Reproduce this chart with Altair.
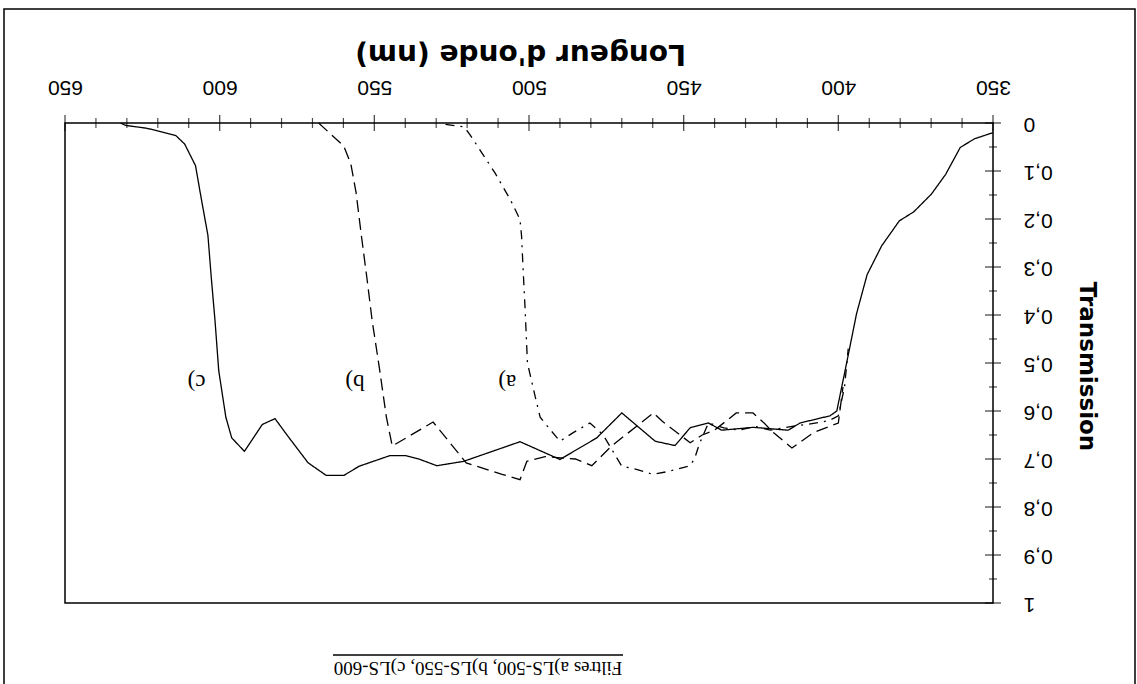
import altair as alt
import pandas as pd

# ---- data ----
a_wl = [527.0, 521.0, 519.1, 511.0, 506.1, 502.9, 502.4, 501.9, 501.3, 500.5, 498.0, 496.4, 493.0, 490.0,
        485.7, 480.3, 476.0, 470.0, 465.0, 460.0, 455.0, 448.0, 446.5, 445.0, 442.0, 437.0, 432.0, 427.0,
        422.0, 415.0, 410.0, 403.0, 400.0, 398.0, 396.8]
a_t = [0.003, 0.008, 0.024, 0.104, 0.159, 0.201, 0.236, 0.305, 0.382, 0.50, 0.57, 0.613, 0.64, 0.663,
       0.645, 0.625, 0.65, 0.715, 0.722, 0.732, 0.726, 0.714, 0.70, 0.67, 0.625, 0.635, 0.64, 0.632,
       0.64, 0.632, 0.628, 0.62, 0.61, 0.55, 0.47]

b_wl = [568.0, 559.9, 557.6, 555.9, 554.2, 552.4, 550.7, 548.4, 546.1, 544.2, 531.0, 520.3, 508.7, 502.9,
        500.7, 494.8, 485.0, 479.7, 473.3, 459.8, 457.0, 447.9, 444.0, 440.0, 433.0, 427.6, 424.0, 421.0,
        415.0, 408.0, 402.0, 400.0, 398.5]
b_t = [0.0, 0.048, 0.085, 0.145, 0.234, 0.323, 0.412, 0.509, 0.613, 0.673, 0.623, 0.708, 0.732, 0.743,
       0.705, 0.695, 0.70, 0.714, 0.673, 0.604, 0.621, 0.666, 0.65, 0.64, 0.604, 0.604, 0.625, 0.645,
       0.677, 0.645, 0.63, 0.625, 0.55]

c_wl = [632.0, 630.4, 623.5, 614.2, 611.3, 607.8, 606.1, 603.8, 602.7, 601.5, 600.3, 598.0, 596.1, 592.0,
        586.2, 582.1, 578.0, 571.4, 565.6, 559.8, 554.9, 545.0, 540.0, 535.2, 529.8, 521.2, 502.9, 490.0,
        478.1, 470.0, 459.2, 452.8, 447.9, 442.0, 437.7, 427.5, 416.2, 412.4, 402.7, 400.5, 397.6, 394.1,
        390.7, 386.0, 380.3, 375.6, 369.9, 365.3, 360.6, 356.0, 350.0]
c_t = [0.0, 0.005, 0.011, 0.026, 0.044, 0.089, 0.152, 0.234, 0.323, 0.412, 0.516, 0.613, 0.656, 0.684,
       0.628, 0.616, 0.652, 0.708, 0.734, 0.734, 0.715, 0.693, 0.693, 0.701, 0.714, 0.705, 0.664, 0.701,
       0.656, 0.604, 0.663, 0.672, 0.635, 0.625, 0.640, 0.634, 0.640, 0.625, 0.610, 0.600, 0.509, 0.397,
       0.316, 0.256, 0.204, 0.185, 0.148, 0.107, 0.051, 0.033, 0.020]

label_text = ["a)", "b)", "c)"]
label_wl = [507.0, 556.3, 607.5]
label_t = [0.54, 0.54, 0.54]

x_ticks_major = [350, 400, 450, 500, 550, 600, 650]
x_ticks_minor = [360, 370, 380, 390, 410, 420, 430, 440, 460, 470, 480, 490, 510, 520, 530, 540,
                 560, 570, 580, 590, 610, 620, 630, 640]
y_ticks_major = [0.0, 0.1, 0.2, 0.3, 0.4, 0.5, 0.6, 0.7, 0.8, 0.9, 1.0]
y_ticks_minor = [0.05, 0.15, 0.25, 0.35, 0.45, 0.55, 0.65, 0.75, 0.85, 0.95]

caption = "Filtres a)LS-500, b)LS-550, c)LS-600"

W, H = 928, 480

rows = []
for name, wl, t in (("a", a_wl, a_t), ("b", b_wl, b_t), ("c", c_wl, c_t)):
    for i, (w, v) in enumerate(zip(wl, t)):
        rows.append({"filtre": name, "wl": w, "t": v, "i": i})
df = pd.DataFrame(rows)

xscale = alt.Scale(domain=[350, 650], reverse=True, nice=False)
yscale = alt.Scale(domain=[0, 1], reverse=True, nice=False)

xaxis = alt.Axis(
    orient="top", values=x_ticks_major, grid=False, ticks=False, domain=False,
    labelAngle=180, labelBaseline="top", labelAlign="center", labelPadding=26,
    labelFontSize=21, labelFont="Liberation Sans", labelColor="black",
    title="Longeur d'onde (nm)", titleAngle=180, titleFontSize=28, titleFont="DejaVu Sans",
    titleFontWeight="bold", titleColor="black", titleX=W / 2 - 9, titleY=-71,
    titleBaseline="middle", titleAlign="center",
)
yaxis = alt.Axis(
    orient="right", values=y_ticks_major, grid=False, ticks=False, domain=False,
    labelAngle=180, labelAlign="right", labelBaseline="middle", labelPadding=30,
    labelFontSize=21, labelFont="Liberation Sans", labelColor="black",
    labelExpr="datum.value == 0 ? '0' : datum.value == 1 ? '1' : replace(format(datum.value, '.1f'), '.', ',')",
    title="Transmission", titleAngle=90, titleFontSize=23, titleFont="DejaVu Sans",
    titleFontWeight="bold", titleColor="black", titleX=93, titleY=243,
    titleBaseline="middle", titleAlign="center",
)

base = alt.Chart(df)
lines = base.mark_line(color="black", strokeWidth=1.3).encode(
    x=alt.X("wl:Q", scale=xscale, axis=xaxis),
    y=alt.Y("t:Q", scale=yscale, axis=yaxis),
    strokeDash=alt.StrokeDash("filtre:N", legend=None,
                              scale=alt.Scale(domain=["a", "b", "c"],
                                              range=[[9, 6, 2, 6], [12, 6], [1, 0]])),
    detail="filtre:N",
    order="i:Q",
)

lab_df = pd.DataFrame({"txt": label_text, "wl": label_wl, "t": label_t})
labels = alt.Chart(lab_df).mark_text(
    angle=180, font="Liberation Serif", fontSize=23, color="black", baseline="middle", align="center"
).encode(x=alt.X("wl:Q", scale=xscale), y=alt.Y("t:Q", scale=yscale), text="txt:N")

xt_major = alt.Chart(pd.DataFrame({"v": x_ticks_major})).mark_tick(
    orient="vertical", size=16, thickness=1.3, color="black"
).encode(x=alt.X("v:Q", scale=xscale), y=alt.value(0))
xt_minor = alt.Chart(pd.DataFrame({"v": x_ticks_minor})).mark_tick(
    orient="vertical", size=10, thickness=1.2, color="black"
).encode(x=alt.X("v:Q", scale=xscale), y=alt.value(0))
yt_major = alt.Chart(pd.DataFrame({"v": y_ticks_major})).mark_tick(
    orient="horizontal", size=16, thickness=1.3, color="black"
).encode(y=alt.Y("v:Q", scale=yscale), x=alt.value(W))
yt_minor = alt.Chart(pd.DataFrame({"v": y_ticks_minor})).mark_tick(
    orient="horizontal", size=8, thickness=1.2, color="black"
).encode(y=alt.Y("v:Q", scale=yscale), x=alt.value(W))

cap = alt.Chart(pd.DataFrame({"txt": [caption]})).mark_text(
    angle=180, font="Liberation Serif", fontSize=19, color="black", baseline="middle", align="center"
).encode(text="txt:N", x=alt.value(413), y=alt.value(545))
cap_line = alt.Chart(pd.DataFrame({"txt": [caption]})).mark_rule(color="black", strokeWidth=1.5).encode(
    x=alt.value(268), x2=alt.value(558), y=alt.value(532)
)
frame = alt.Chart(pd.DataFrame({"txt": [caption]})).mark_rect(
    fill=None, fillOpacity=0, stroke="black", strokeWidth=1.5
).encode(x=alt.value(-61), x2=alt.value(1070), y=alt.value(-114), y2=alt.value(620))

chart = alt.layer(
    frame, lines, labels, xt_major, xt_minor, yt_major, yt_minor, cap, cap_line
).properties(
    width=W, height=H,
    autosize=alt.AutoSizeParams(type="none"),
    padding={"left": 65, "top": 123, "right": 144, "bottom": 81},
    background="white",
).configure_view(stroke="black", strokeWidth=1.5)

chart.save("out.html", embed_options={"renderer": "svg", "actions": False})
